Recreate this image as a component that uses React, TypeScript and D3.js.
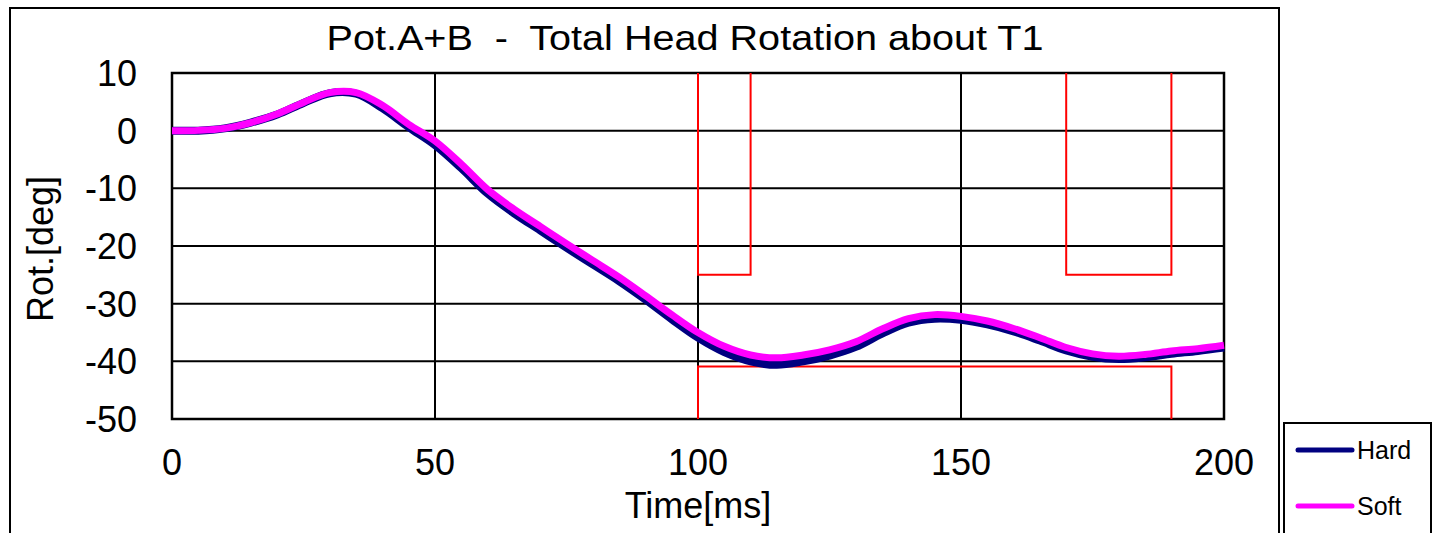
import React from "react";
import * as d3 from "d3";

// time axis (ms) and the two measured curves
const times = [0, 5, 10, 15, 20, 25, 30, 35, 40, 45, 50, 55, 60, 65, 70, 75, 80, 85, 90, 95, 100,
  105, 110, 115, 120, 125, 130, 135, 140, 145, 150, 155, 160, 165, 170, 175, 180, 185, 190, 195, 200];
const hard = [0, 0, 0.4, 1.4, 2.8, 4.8, 6.5, 6.4, 3.9, 0.6, -2.5, -6.5, -10.9, -14.3, -17.3, -20.3,
  -23.2, -26.1, -29.3, -32.7, -35.9, -38.4, -40.0, -40.6, -40.0, -39.0, -37.5, -35.2, -33.3, -32.6,
  -32.8, -33.6, -34.8, -36.4, -38.1, -39.2, -39.6, -39.3, -38.7, -38.2, -37.6];
const soft = [0, 0.05, 0.4, 1.4, 2.9, 4.9, 6.6, 6.6, 4.4, 1.1, -1.8, -5.8, -10.2, -13.6, -16.6, -19.6,
  -22.5, -25.4, -28.6, -31.9, -35.0, -37.4, -38.9, -39.4, -38.9, -38.0, -36.6, -34.4, -32.6, -31.9,
  -32.2, -33.0, -34.3, -35.9, -37.6, -38.7, -39.1, -38.8, -38.2, -37.8, -37.2];

// red corridor limits
const corridorA = [[100, 10], [100, -25], [110, -25], [110, 10]];
const corridorB = [[170, 10], [170, -25], [190, -25], [190, 10]];
const corridorC = [[100, -50], [100, -40.9], [190, -40.9], [190, -50]];

const xTicks = [0, 50, 100, 150, 200];
const yTicks = [10, 0, -10, -20, -30, -40, -50];

const FONT = "'Liberation Sans', Arial, sans-serif";

export default function App() {
  const x = d3.scaleLinear().domain([0, 200]).range([172, 1224]);
  const y = d3.scaleLinear().domain([10, -50]).range([73, 419]);

  const line = d3.line<number>()
    .x((d, i) => x(times[i]))
    .y((d) => y(d))
    .curve(d3.curveCatmullRom.alpha(0.5));

  const poly = d3.line<number[]>().x((d) => x(d[0])).y((d) => y(d[1]));

  return (
    <svg width={1432} height={533} style={{ position: "absolute", left: 0, top: 0, background: "#fff" }}>
      {/* outer chart frame */}
      <rect x={10} y={8} width={1269} height={560} fill="none" stroke="#000" strokeWidth={2} />

      <text x={685} y={50} textAnchor="middle" fontFamily={FONT} fontSize={35}
        textLength={717} lengthAdjust="spacingAndGlyphs" style={{ whiteSpace: "pre" }}>
        {"Pot.A+B  -  Total Head Rotation about T1"}
      </text>

      {/* grid */}
      {yTicks.map((t) => (
        <line key={"gy" + t} x1={x(0)} x2={x(200)} y1={y(t)} y2={y(t)} stroke="#000" strokeWidth={2} />
      ))}
      {xTicks.map((t) => (
        <line key={"gx" + t} x1={x(t)} x2={x(t)} y1={y(10)} y2={y(-50)} stroke="#000" strokeWidth={2} />
      ))}
      <rect x={x(0)} y={y(10)} width={x(200) - x(0)} height={y(-50) - y(10)} fill="none" stroke="#000" strokeWidth={2.5} />

      {/* corridors */}
      {[corridorA, corridorB, corridorC].map((c, i) => (
        <path key={"c" + i} d={poly(c) || ""} fill="none" stroke="#ff0000" strokeWidth={2} />
      ))}

      <path d={line(hard) || ""} fill="none" stroke="#000080" strokeWidth={8} strokeLinejoin="round" />
      <path d={line(soft) || ""} fill="none" stroke="#ff00ff" strokeWidth={7} strokeLinejoin="round" />

      {/* tick labels */}
      {yTicks.map((t) => (
        <text key={"ly" + t} x={137} y={y(t)} dy="0.36em" textAnchor="end" fontFamily={FONT} fontSize={36}>
          {t}
        </text>
      ))}
      {xTicks.map((t) => (
        <text key={"lx" + t} x={x(t)} y={475} textAnchor="middle" fontFamily={FONT} fontSize={36}>
          {t}
        </text>
      ))}

      <text x={698} y={518} textAnchor="middle" fontFamily={FONT} fontSize={36}>Time[ms]</text>
      <text transform="translate(53,249) rotate(-90)" textAnchor="middle" fontFamily={FONT} fontSize={36}>
        Rot.[deg]
      </text>

      {/* legend */}
      <rect x={1284} y={423} width={147} height={140} fill="#fff" stroke="#000" strokeWidth={2} />
      <line x1={1298} x2={1352} y1={450} y2={450} stroke="#000080" strokeWidth={5} strokeLinecap="round" />
      <text x={1357} y={459} fontFamily={FONT} fontSize={25}>Hard</text>
      <line x1={1298} x2={1352} y1={506} y2={506} stroke="#ff00ff" strokeWidth={5} strokeLinecap="round" />
      <text x={1357} y={515} fontFamily={FONT} fontSize={25}>Soft</text>
    </svg>
  );
}
